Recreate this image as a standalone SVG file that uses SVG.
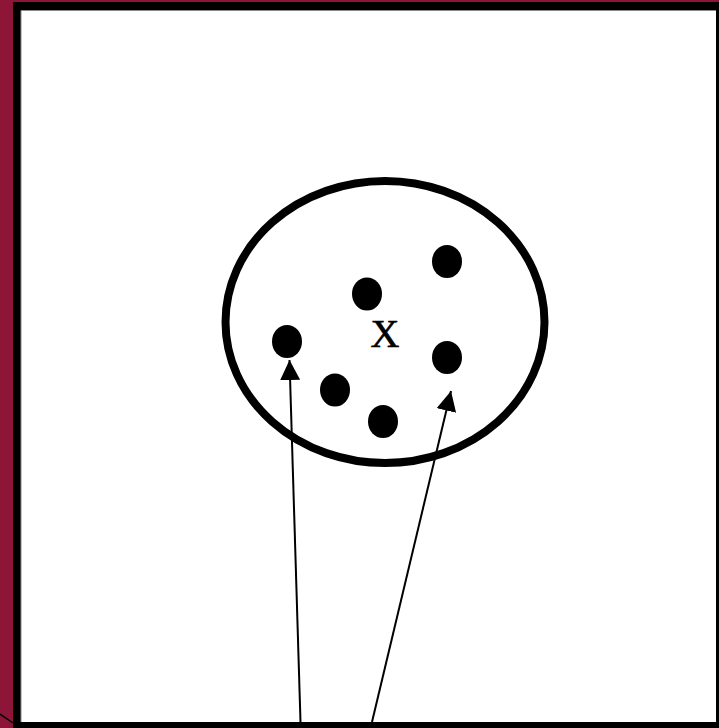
<svg xmlns="http://www.w3.org/2000/svg" width="719" height="728" viewBox="0 0 719 728">
<style>
.dot{fill:#000}
.conn{stroke:#000;stroke-width:2;fill:none}
</style>
<defs>
<marker id="ah" viewBox="0 0 20 20" refX="20" refY="10" markerWidth="20" markerHeight="20" markerUnits="userSpaceOnUse" orient="auto">
<path d="M0,0 L20,10 L0,20 Z" fill="#000"/>
</marker>
</defs>
<g id="frame">
<rect x="0" y="0" width="719" height="728" fill="#8c1538"/>
<rect x="13" y="2" width="706" height="726" fill="#000"/>
<rect x="21" y="10" width="695" height="712" fill="#fff"/>
<path d="M21,722 V10.5 H716" stroke="#888" stroke-width="1" fill="none"/>
<line x1="0" y1="714" x2="13" y2="723" stroke="#000" stroke-width="1.5"/>
</g>
<g id="cluster">
<ellipse cx="385" cy="322" rx="159.5" ry="141" fill="none" stroke="#000" stroke-width="8"/>
<text x="385" y="347" font-family="Liberation Serif, serif" font-size="40" text-anchor="middle" stroke="#000" stroke-width="0.6">X</text>
</g>
<g id="p1"><ellipse class="dot" cx="287" cy="341.5" rx="15" ry="16.5"/></g>
<g id="p2"><ellipse class="dot" cx="367" cy="294" rx="15" ry="16.5"/></g>
<g id="p3"><ellipse class="dot" cx="447" cy="261.5" rx="15" ry="16.5"/></g>
<g id="p4"><ellipse class="dot" cx="335" cy="390" rx="15" ry="16.5"/></g>
<g id="p5"><ellipse class="dot" cx="383" cy="421.5" rx="15" ry="16.5"/></g>
<g id="p6"><ellipse class="dot" cx="447" cy="357.5" rx="15" ry="16.5"/></g>
<g id="connectors">
<line class="conn" x1="300.5" y1="722" x2="289.5" y2="360" marker-end="url(#ah)"/>
<line class="conn" x1="372" y1="722" x2="451" y2="391" marker-end="url(#ah)"/>
</g>
</svg>
